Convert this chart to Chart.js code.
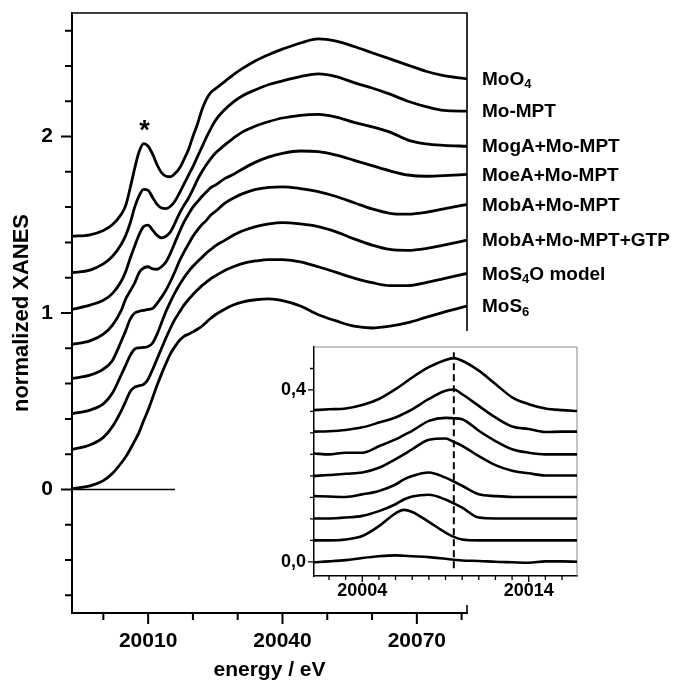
<!DOCTYPE html>
<html>
<head>
<meta charset="utf-8">
<script src="https://cdn.jsdelivr.net/npm/chart.js@4"></script>
<style>
  body { margin: 0; background: #fff; }
  #wrap { position: relative; width: 677px; height: 683px; }
  #main { position: absolute; left: 0; top: 0; }
  #insetBox { position: absolute; left: 270px; top: 331px; width: 330px; height: 274px; background: #fff; }
</style>
</head>
<body>
<div id="wrap">
  <canvas id="main" width="677" height="683"></canvas>
  <div id="insetBox"><canvas id="inset" width="330" height="274"></canvas></div>
</div>
<script>
// main XANES spectra (offset by 0.2 each)
const energy = [19993, 19997, 20000, 20002, 20004, 20005, 20006, 20007, 20008, 20009, 20010, 20011, 20012, 20013, 20014,
  20015, 20016, 20017, 20018, 20019, 20020, 20021, 20022, 20023, 20024, 20025, 20027, 20029, 20031, 20034, 20037, 20040,
  20044, 20048, 20052, 20056, 20060, 20064, 20068, 20072, 20076, 20081.2];

const moO4 = [1.435, 1.443, 1.468, 1.50, 1.56, 1.61, 1.71, 1.82, 1.915, 1.96, 1.945, 1.90, 1.84, 1.795, 1.775, 1.772, 1.79,
  1.82, 1.87, 1.925, 2.00, 2.07, 2.15, 2.21, 2.25, 2.27, 2.31, 2.35, 2.385, 2.43, 2.465, 2.495, 2.53, 2.553, 2.54, 2.51,
  2.475, 2.44, 2.405, 2.37, 2.345, 2.327];
const moMPT = [1.228, 1.243, 1.278, 1.32, 1.39, 1.44, 1.51, 1.60, 1.665, 1.70, 1.695, 1.655, 1.615, 1.595, 1.592, 1.605,
  1.635, 1.68, 1.73, 1.78, 1.83, 1.885, 1.94, 1.995, 2.045, 2.09, 2.15, 2.195, 2.23, 2.265, 2.295, 2.315, 2.34, 2.355, 2.34,
  2.305, 2.275, 2.24, 2.2, 2.17, 2.148, 2.144];
const mogA = [1.02, 1.045, 1.072, 1.11, 1.18, 1.235, 1.31, 1.38, 1.445, 1.49, 1.498, 1.47, 1.44, 1.426, 1.435, 1.46, 1.51,
  1.565, 1.61, 1.65, 1.70, 1.755, 1.80, 1.84, 1.875, 1.905, 1.95, 1.99, 2.025, 2.06, 2.085, 2.105, 2.12, 2.125, 2.11, 2.08,
  2.055, 2.025, 1.98, 1.958, 1.95, 1.945];
const moeA = [0.822, 0.842, 0.88, 0.93, 1.015, 1.08, 1.125, 1.17, 1.23, 1.255, 1.262, 1.25, 1.248, 1.262, 1.29, 1.34, 1.40,
  1.46, 1.515, 1.56, 1.60, 1.63, 1.66, 1.685, 1.71, 1.725, 1.76, 1.785, 1.815, 1.855, 1.885, 1.905, 1.918, 1.915, 1.895,
  1.865, 1.835, 1.805, 1.782, 1.775, 1.779, 1.785];
const mobA = [0.629, 0.648, 0.682, 0.73, 0.84, 0.90, 0.965, 1.0, 1.01, 1.015, 1.02, 1.025, 1.055, 1.09, 1.13, 1.18, 1.235,
  1.295, 1.345, 1.39, 1.435, 1.47, 1.50, 1.525, 1.555, 1.575, 1.62, 1.65, 1.675, 1.70, 1.712, 1.715, 1.705, 1.688, 1.66,
  1.625, 1.59, 1.565, 1.56, 1.57, 1.59, 1.615];
const mobAGTP = [0.429, 0.45, 0.485, 0.545, 0.65, 0.705, 0.76, 0.795, 0.803, 0.805, 0.81, 0.83, 0.88, 0.945, 1.01, 1.065,
  1.115, 1.16, 1.20, 1.235, 1.265, 1.29, 1.315, 1.34, 1.36, 1.38, 1.41, 1.44, 1.465, 1.49, 1.505, 1.512, 1.505, 1.49, 1.46,
  1.42, 1.385, 1.36, 1.355, 1.365, 1.385, 1.413];
const moS4O = [0.227, 0.252, 0.295, 0.355, 0.445, 0.50, 0.555, 0.58, 0.588, 0.595, 0.625, 0.68, 0.74, 0.80, 0.86, 0.915,
  0.965, 1.005, 1.045, 1.075, 1.105, 1.13, 1.155, 1.175, 1.195, 1.21, 1.24, 1.262, 1.28, 1.295, 1.303, 1.302, 1.29, 1.262,
  1.23, 1.198, 1.172, 1.155, 1.155, 1.172, 1.195, 1.224];
const moS6 = [0.004, 0.02, 0.05, 0.09, 0.15, 0.185, 0.228, 0.275, 0.325, 0.39, 0.45, 0.52, 0.59, 0.655, 0.715, 0.77, 0.81,
  0.845, 0.868, 0.88, 0.893, 0.908, 0.925, 0.948, 0.97, 0.99, 1.02, 1.045, 1.062, 1.075, 1.08, 1.07, 1.04, 0.99, 0.955,
  0.925, 0.915, 0.925, 0.945, 0.975, 1.005, 1.039];

const seriesNames = ['MoO_4', 'Mo-MPT', 'MogA+Mo-MPT', 'MoeA+Mo-MPT', 'MobA+Mo-MPT', 'MobA+Mo-MPT+GTP', 'MoS_4O model', 'MoS_6'];
const baselineSpan = [19993, 20016];
const starMark = { energy: 20009.2, value: 2.074 };

const mainTickEnergies = [20000, 20010, 20020, 20030, 20040, 20050, 20060, 20070, 20080];
const mainLabelEnergies = [20010, 20040, 20070];
const mainTickValues = [-0.6, -0.4, -0.2, 0, 0.2, 0.4, 0.6, 0.8, 1, 1.2, 1.4, 1.6, 1.8, 2, 2.2, 2.4, 2.6];
const mainLabelValues = [0, 1, 2];

// inset: pre-edge peaks (offset by 0.05 each)
const insetEnergy = [20001.1, 20002, 20003, 20004, 20005, 20006, 20006.5, 20007, 20008, 20009, 20009.5, 20010, 20011,
  20012, 20013, 20014, 20015, 20016, 20016.9];
const inMoO4 = [0.353, 0.355, 0.357, 0.365, 0.379, 0.402, 0.415, 0.429, 0.453, 0.470, 0.474, 0.468, 0.445, 0.414, 0.383,
  0.367, 0.357, 0.353, 0.351];
const inMoMPT = [0.303, 0.304, 0.307, 0.313, 0.324, 0.336, 0.345, 0.355, 0.379, 0.398, 0.401, 0.390, 0.363, 0.336, 0.315,
  0.309, 0.302, 0.303, 0.303];
const inMogA = [0.252, 0.250, 0.254, 0.254, 0.269, 0.285, 0.295, 0.305, 0.328, 0.335, 0.334, 0.332, 0.305, 0.281, 0.262,
  0.254, 0.250, 0.250, 0.250];
const inMoeA = [0.200, 0.202, 0.205, 0.208, 0.219, 0.239, 0.250, 0.262, 0.284, 0.287, 0.279, 0.270, 0.246, 0.225, 0.212,
  0.206, 0.201, 0.201, 0.201];
const inMobA = [0.153, 0.152, 0.151, 0.157, 0.165, 0.180, 0.192, 0.200, 0.208, 0.196, 0.187, 0.177, 0.157, 0.153, 0.151,
  0.151, 0.151, 0.151, 0.151];
const inMobAGTP = [0.101, 0.101, 0.103, 0.107, 0.118, 0.134, 0.145, 0.152, 0.156, 0.145, 0.136, 0.126, 0.103, 0.101, 0.101,
  0.101, 0.101, 0.101, 0.101];
const inMoS4O = [0.050, 0.050, 0.052, 0.060, 0.083, 0.113, 0.121, 0.116, 0.093, 0.068, 0.058, 0.052, 0.050, 0.050, 0.050,
  0.050, 0.050, 0.050, 0.050];
const inMoS6 = [-0.001, 0.001, 0.004, 0.009, 0.013, 0.015, 0.014, 0.013, 0.011, 0.007, 0.005, 0.003, 0.002, 0.000, -0.001,
  -0.002, 0.001, 0.001, 0.000];
const markerEnergy = 20009.5;
const markerSpan = [-0.015, 0.495];

const insetTickEnergies = [20002, 20003, 20004, 20005, 20006, 20007, 20008, 20009, 20010, 20011, 20012, 20013, 20014, 20015, 20016];
const insetLabelEnergies = [20004, 20014];
const insetTickValues = [0, 0.05, 0.1, 0.15, 0.2, 0.25, 0.3, 0.35, 0.4, 0.45];
const insetLabelValues = [0, 0.4];

Chart.defaults.font.family = "'Liberation Sans', Arial, Helvetica, sans-serif";
Chart.defaults.font.weight = 'bold';
Chart.defaults.color = '#000';

const pts = (xs, ys) => xs.map((x, i) => ({ x: x, y: ys[i] }));
const near = (v, list) => list.some(l => Math.abs(l - v) < 1e-6);

// outward tick marks, long for labelled ticks
const tickMarks = {
  id: 'tickMarks',
  afterDraw(chart, args, opts) {
    const { ctx, chartArea: a, scales: { x, y } } = chart;
    ctx.save();
    ctx.strokeStyle = '#000';
    ctx.lineWidth = opts.width;
    ctx.beginPath();
    x.ticks.forEach(t => {
      const px = x.getPixelForValue(t.value);
      ctx.moveTo(px, a.bottom);
      ctx.lineTo(px, a.bottom + (t.label ? opts.major : opts.minor));
    });
    y.ticks.forEach(t => {
      const py = y.getPixelForValue(t.value);
      ctx.moveTo(a.left, py);
      ctx.lineTo(a.left - (t.label ? opts.major : opts.minor), py);
    });
    ctx.stroke();
    ctx.restore();
  }
};

// top and right border of the plot box
const frame = {
  id: 'frame',
  beforeDatasetsDraw(chart, args, opts) {
    const { ctx, chartArea: a } = chart;
    ctx.save();
    ctx.strokeStyle = opts.color;
    ctx.lineWidth = opts.width;
    ctx.beginPath();
    ctx.moveTo(a.left, a.top);
    ctx.lineTo(a.right, a.top);
    ctx.lineTo(a.right, a.bottom);
    ctx.stroke();
    ctx.restore();
  }
};

// sample names at the right end of each curve, "_" + digit is a subscript
const seriesLabels = {
  id: 'seriesLabels',
  afterDraw(chart, args, opts) {
    const { ctx, chartArea: a } = chart;
    ctx.save();
    ctx.fillStyle = '#000';
    ctx.textBaseline = 'middle';
    opts.names.forEach((name, i) => {
      const meta = chart.getDatasetMeta(i);
      const y = meta.data[meta.data.length - 1].y + opts.shift;
      let x = a.right + opts.gap;
      name.split(/(_\d)/).forEach(part => {
        if (!part) return;
        if (part[0] === '_') {
          ctx.font = 'bold ' + opts.subSize + 'px ' + Chart.defaults.font.family;
          ctx.fillText(part.slice(1), x, y + opts.subShift);
          x += ctx.measureText(part.slice(1)).width;
        } else {
          ctx.font = 'bold ' + opts.size + 'px ' + Chart.defaults.font.family;
          ctx.fillText(part, x, y);
          x += ctx.measureText(part).width;
        }
      });
    });
    // asterisk over the pre-edge peak
    const sx = chart.scales.x.getPixelForValue(starMark.energy);
    const sy = chart.scales.y.getPixelForValue(starMark.value);
    ctx.font = 'bold 27px ' + Chart.defaults.font.family;
    ctx.textAlign = 'center';
    ctx.textBaseline = 'alphabetic';
    ctx.fillText('*', sx, sy + 0.57 * 27);
    ctx.restore();
  }
};

const curve = (data, w) => ({
  data: data, borderColor: '#000', borderWidth: w, pointRadius: 0,
  cubicInterpolationMode: 'monotone', fill: false
});

// fixed plot box: drop the extra room Chart.js keeps for edge labels
const fixY = w => s => { s.width = w; s.paddingTop = 0; s.paddingBottom = 0; };
const fixX = h => s => { s.height = h; s.paddingLeft = 0; s.paddingRight = 0; };

new Chart(document.getElementById('main'), {
  type: 'line',
  data: {
    datasets: [moO4, moMPT, mogA, moeA, mobA, mobAGTP, moS4O, moS6].map(s => curve(pts(energy, s), 2.8))
      .concat([curve(pts(baselineSpan, [0, 0]), 1.6)])
  },
  options: {
    responsive: false,
    animation: false,
    layout: { padding: { left: 0, top: 13, right: 210, bottom: 0 } },
    plugins: {
      legend: { display: false },
      tooltip: { enabled: false },
      tickMarks: { major: 11, minor: 7, width: 2 },
      frame: { color: '#000', width: 1.6 },
      seriesLabels: { names: seriesNames, gap: 15, size: 19, subSize: 13, subShift: 5, shift: 1 }
    },
    scales: {
      x: {
        type: 'linear', min: 19993, max: 20081.2,
        afterFit: fixX(70),
        afterBuildTicks: s => { s.ticks = mainTickEnergies.map(v => ({ value: v })); },
        grid: { display: false, drawTicks: false },
        border: { display: true, color: '#000', width: 2 },
        ticks: {
          autoSkip: false, maxRotation: 0, padding: 16, color: '#000',
          font: { size: 21, weight: 'bold' },
          callback: v => near(v, mainLabelEnergies) ? String(v) : ''
        },
        title: { display: true, text: 'energy / eV', color: '#000', font: { size: 21, weight: 'bold' }, padding: { top: 0, bottom: 0 } }
      },
      y: {
        type: 'linear', min: -0.7, max: 2.7,
        afterFit: fixY(72),
        afterBuildTicks: s => { s.ticks = mainTickValues.map(v => ({ value: v })); },
        grid: { display: false, drawTicks: false },
        border: { display: true, color: '#000', width: 2 },
        ticks: {
          autoSkip: false, padding: 19, color: '#000',
          font: { size: 21, weight: 'bold' },
          callback: v => near(v, mainLabelValues) ? String(Math.round(v)) : ''
        },
        title: { display: true, text: 'normalized XANES', color: '#000', font: { size: 22, weight: 'bold' }, padding: { top: 9, bottom: 0 } }
      }
    }
  },
  plugins: [frame, tickMarks, seriesLabels]
});

// dashed marker line
const marker = {
  data: pts([markerEnergy, markerEnergy], markerSpan), borderColor: '#000', borderWidth: 2,
  borderDash: [7, 4], pointRadius: 0, fill: false
};

new Chart(document.getElementById('inset'), {
  type: 'line',
  data: {
    datasets: [inMoO4, inMoMPT, inMogA, inMoeA, inMobA, inMobAGTP, inMoS4O, inMoS6]
      .map(s => curve(pts(insetEnergy, s), 2.6)).concat([marker])
  },
  options: {
    responsive: false,
    animation: false,
    layout: { padding: { left: 0, top: 16, right: 23, bottom: 0 } },
    plugins: {
      legend: { display: false },
      tooltip: { enabled: false },
      tickMarks: { major: 6, minor: 4, width: 1.3 },
      frame: { color: '#888', width: 1 }
    },
    scales: {
      x: {
        type: 'linear', min: 20001.1, max: 20016.9,
        afterFit: fixX(29),
        afterBuildTicks: s => { s.ticks = insetTickEnergies.map(v => ({ value: v })); },
        grid: { display: false, drawTicks: false },
        border: { display: true, color: '#000', width: 1.5 },
        ticks: {
          autoSkip: false, maxRotation: 0, padding: 4, color: '#000',
          font: { size: 18, weight: 'bold' },
          callback: v => near(v, insetLabelEnergies) ? String(v) : ''
        }
      },
      y: {
        type: 'linear', min: -0.033, max: 0.5,
        afterFit: fixY(44),
        afterBuildTicks: s => { s.ticks = insetTickValues.map(v => ({ value: v })); },
        grid: { display: false, drawTicks: false },
        border: { display: true, color: '#000', width: 1.5 },
        ticks: {
          autoSkip: false, padding: 8, color: '#000',
          font: { size: 18, weight: 'bold' },
          callback: v => near(v, insetLabelValues) ? v.toFixed(1).replace('.', ',') : ''
        }
      }
    }
  },
  plugins: [frame, tickMarks]
});
</script>
</body>
</html>
